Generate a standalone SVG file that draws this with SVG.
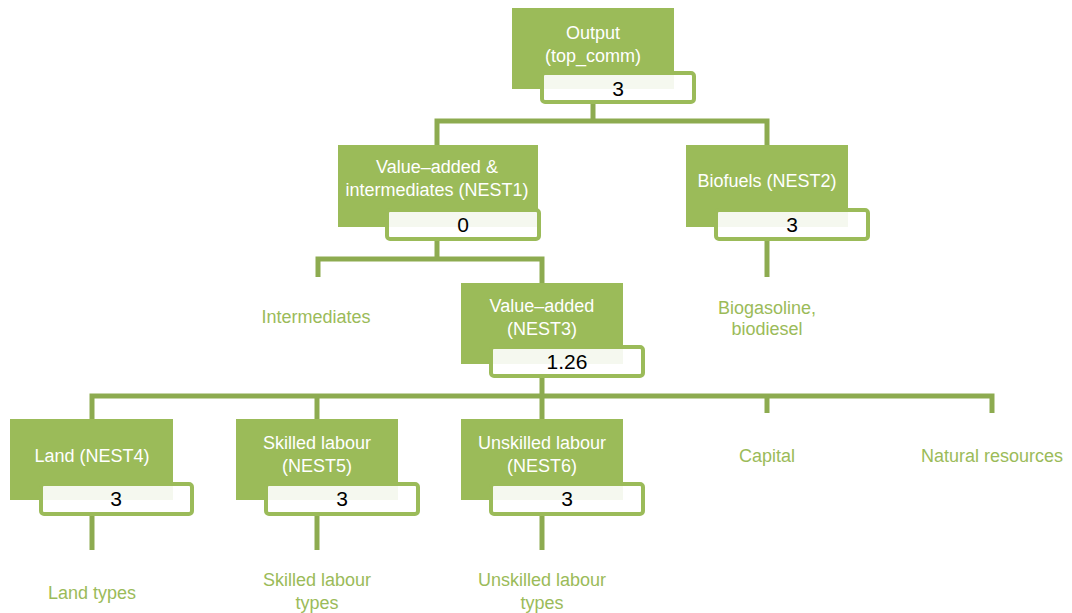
<svg xmlns="http://www.w3.org/2000/svg" width="1072" height="613" viewBox="0 0 1072 613">
<style>
.node{fill:#9bbb59}
.box{fill:#ffffff;fill-opacity:0.9;stroke:#9bbb59;stroke-width:4}
.t{font-family:"Liberation Sans",Arial,sans-serif;font-size:18px;fill:#ffffff;text-anchor:middle}
.n{font-family:"Liberation Sans",Arial,sans-serif;font-size:21px;fill:#000000;text-anchor:middle}
.l{font-family:"Liberation Sans",Arial,sans-serif;font-size:18px;fill:#9bbb59;text-anchor:middle}
.c{fill:none;stroke:#8dab50;stroke-width:5}
</style>
<rect width="1072" height="613" fill="#ffffff"/>
<g id="connectors">
<path class="c" d="M593,104 V121 M437,121 H767 M437,118.5 V145 M767,118.5 V145"/>
<path class="c" d="M437,241 V259 M318,259 H542 M318,256.5 V277 M542,256.5 V283"/>
<path class="c" d="M767,241 V277"/>
<path class="c" d="M542,378 V396 M92,396 H992 M92,393.5 V419 M317,393.5 V419 M542,393.5 V419 M767,393.5 V413 M992,393.5 V413"/>
<path class="c" d="M92,516 V550 M317,516 V550 M542,516 V550"/>
</g>
<g id="output">
<rect class="node" x="512" y="8" width="162" height="81"/>
<text class="t" x="593" y="38.5">Output</text>
<text class="t" x="593" y="61.5">(top_comm)</text>
<rect class="box" x="542" y="73" width="152" height="29" rx="3"/>
<text class="n" x="618" y="95.5">3</text>
</g>
<g id="nest1">
<rect class="node" x="338" y="145" width="200" height="82"/>
<text class="t" x="437" y="172.5">Value–added &amp;</text>
<text class="t" x="437" y="195.5">intermediates (NEST1)</text>
<rect class="box" x="387" y="210" width="152" height="29" rx="3"/>
<text class="n" x="463" y="231.5">0</text>
</g>
<g id="nest2">
<rect class="node" x="686" y="145" width="162" height="82"/>
<text class="t" x="767" y="186.5">Biofuels (NEST2)</text>
<rect class="box" x="716" y="210" width="152" height="29" rx="3"/>
<text class="n" x="792" y="231.5">3</text>
</g>
<g id="nest3">
<rect class="node" x="461" y="283" width="162" height="81"/>
<text class="t" x="542" y="311.5">Value–added</text>
<text class="t" x="542" y="334.5">(NEST3)</text>
<rect class="box" x="491" y="347" width="152" height="29" rx="3"/>
<text class="n" x="567" y="369">1.26</text>
</g>
<g id="nest4">
<rect class="node" x="10" y="419" width="163" height="81"/>
<text class="t" x="92" y="461.5">Land (NEST4)</text>
<rect class="box" x="41" y="484" width="151" height="30" rx="3"/>
<text class="n" x="116" y="506">3</text>
</g>
<g id="nest5">
<rect class="node" x="236" y="419" width="162" height="81"/>
<text class="t" x="317" y="448.5">Skilled labour</text>
<text class="t" x="317" y="471.5">(NEST5)</text>
<rect class="box" x="266" y="484" width="152" height="30" rx="3"/>
<text class="n" x="342" y="506">3</text>
</g>
<g id="nest6">
<rect class="node" x="461" y="419" width="162" height="81"/>
<text class="t" x="542" y="448.5">Unskilled labour</text>
<text class="t" x="542" y="471.5">(NEST6)</text>
<rect class="box" x="491" y="484" width="152" height="30" rx="3"/>
<text class="n" x="567" y="506">3</text>
</g>
<g id="intermediates"><text class="l" x="316" y="322.5">Intermediates</text></g>
<g id="biogasoline"><text class="l" x="767" y="313.5">Biogasoline,</text><text class="l" x="767" y="334.5">biodiesel</text></g>
<g id="capital"><text class="l" x="767" y="461.5">Capital</text></g>
<g id="natural"><text class="l" x="992" y="461.5">Natural resources</text></g>
<g id="landtypes"><text class="l" x="92" y="598.5">Land types</text></g>
<g id="skilledtypes"><text class="l" x="317" y="585.5">Skilled labour</text><text class="l" x="317" y="609">types</text></g>
<g id="unskilledtypes"><text class="l" x="542" y="585.5">Unskilled labour</text><text class="l" x="542" y="609">types</text></g>
</svg>
